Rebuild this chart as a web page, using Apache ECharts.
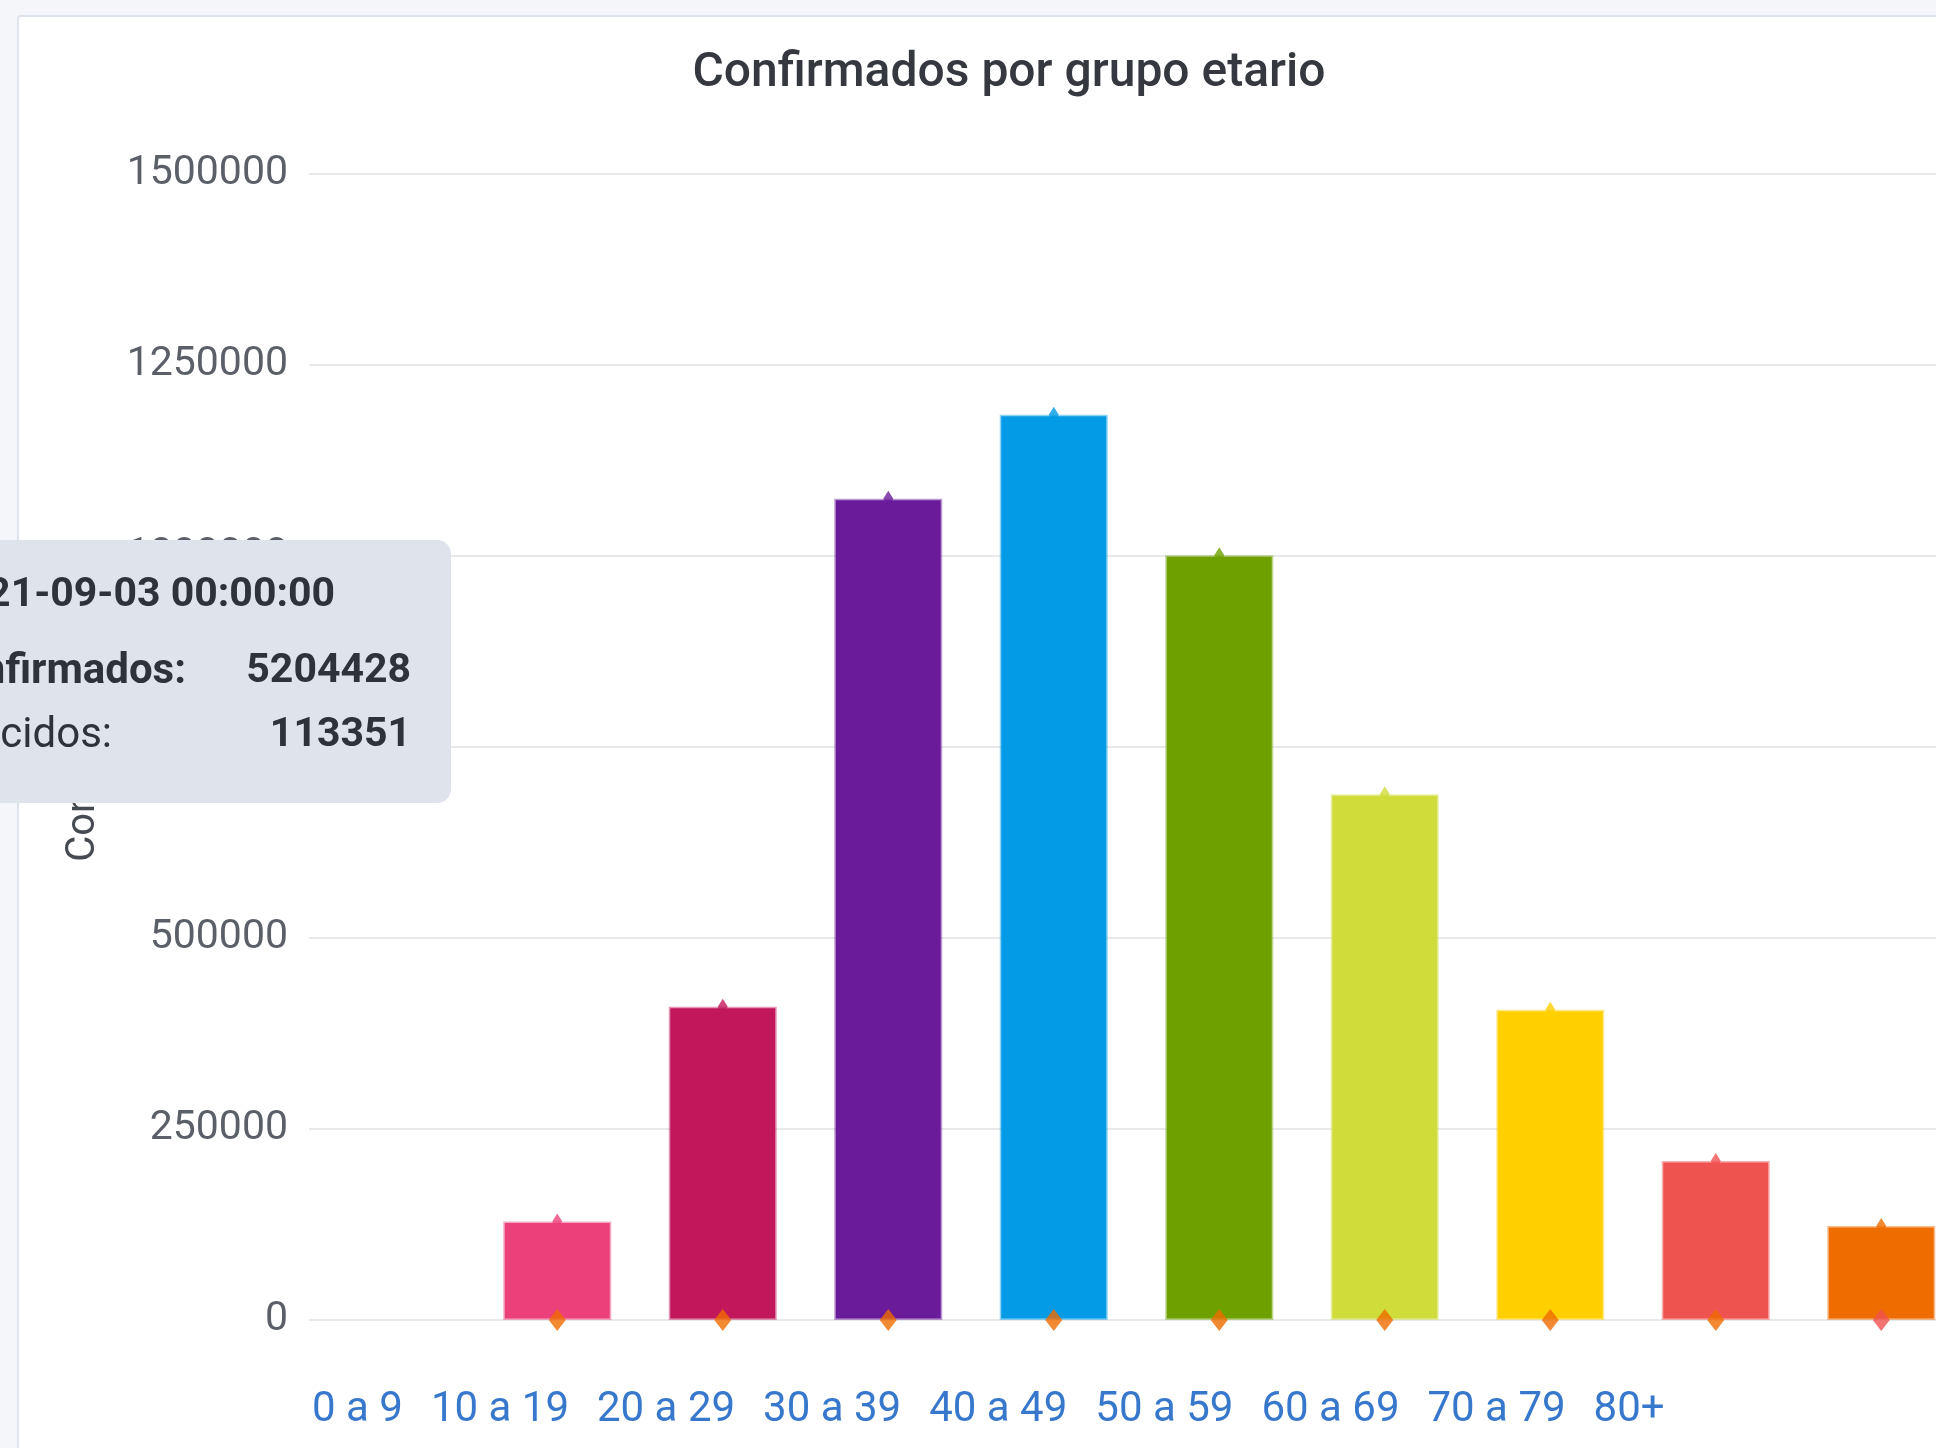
<!DOCTYPE html>
<html>
<head>
<meta charset="utf-8">
<title>Confirmados por grupo etario</title>
<script src="https://cdn.jsdelivr.net/npm/echarts@6/dist/echarts.min.js"></script>
<style>
  html, body { margin: 0; padding: 0; width: 1936px; height: 1448px; overflow: hidden; background: #f5f6f9; }
  #panel { position: absolute; left: 17px; top: 15px; width: 2100px; height: 1500px; background: #fff;
           border: 2px solid #dde3ed; border-radius: 4px; box-sizing: border-box; }
  #chart { position: absolute; left: 0; top: 0; width: 2000px; height: 1448px; }
</style>
</head>
<body>
<div id="panel"></div>
<div id="chart"></div>
<script>
// grupos etarios (también son los textos de la leyenda)
const groups = ['0 a 9', '10 a 19', '20 a 29', '30 a 39', '40 a 49', '50 a 59', '60 a 69', '70 a 79', '80+']
// casos confirmados por grupo
const confirmados = [129000, 410000, 1075000, 1185000, 1001000, 688000, 406000, 208000, 123000]
// fallecidos por grupo (a esta escala quedan sobre el cero)
const fallecidos = [0, 0, 0, 0, 0, 0, 0, 0, 0]
// el eje tiene un hueco vacío antes del primer grupo
const slots = [''].concat(groups)
// eje y
const yMin = 0
const yMax = 1500000
const yStep = 250000
// tooltip fijo que aparece en la captura
const tipDate = '2021-09-03 00:00:00'
const tipNames = ['Confirmados:', 'Fallecidos:']
const tipValues = [5204428, 113351]

const barColors = ['#ec407a', '#c2185b', '#6a1b9a', '#039be5', '#6ea100', '#cfdc3a', '#ffd000', '#ef5350', '#ef6c00']
const dotColors = ['#ef6c00', '#ef6c00', '#ef6c00', '#ef6c00', '#ef6c00', '#ef6c00', '#ef6c00', '#ef6c00', '#ef5350']

const FONT = 'Roboto, "Noto Sans", sans-serif'

// color más claro para el borde de cada barra
const soften = (hex, a) => {
  const n = parseInt(hex.slice(1), 16)
  return `rgba(${(n >> 16) & 255}, ${(n >> 8) & 255}, ${n & 255}, ${a})`
}

const bySlot = (values, styleOf) =>
  slots.map((name) => {
    const i = groups.indexOf(name)
    if (i < 0) return '-'
    return styleOf ? { value: values[i], itemStyle: styleOf(i) } : values[i]
  })

const barSeries = groups.map((g, i) => ({
  name: g,
  type: 'bar',
  barWidth: 108,
  barGap: '-100%',
  z: 3,
  data: bySlot(confirmados).map((v, k) => (slots[k] === g ? v : '-')),
  itemStyle: {
    color: barColors[i],
    borderColor: soften(barColors[i], 0.45),
    borderWidth: 3
  }
}))

// texto del tooltip fijo
const tipText = (x, y, text, weight, size) => ({
  type: 'text',
  x,
  y,
  z: 100,
  zlevel: 1,
  style: { text, align: 'right', verticalAlign: 'middle', font: `${weight} ${size}px ${FONT}`, fill: '#2e323a' }
})

const chart = echarts.init(document.getElementById('chart'), null, { renderer: 'canvas' })
chart.setOption({
  animation: false,
  title: {
    text: 'Confirmados por grupo etario',
    left: 1004,
    top: 45,
    textAlign: 'center',
    textStyle: { fontFamily: FONT, fontSize: 48, fontWeight: 500, color: '#35393f' }
  },
  legend: {
    data: groups,
    left: 302,
    top: 1384,
    icon: 'none',
    itemWidth: 0,
    itemHeight: 14,
    itemGap: 23,
    textStyle: { fontFamily: FONT, fontSize: 42, color: '#3778cd' }
  },
  grid: { left: 309, right: 36, top: 174, bottom: 128 },
  xAxis: {
    type: 'category',
    data: slots,
    axisLine: { show: false },
    axisTick: { show: false },
    axisLabel: { show: false },
    splitLine: { show: false }
  },
  yAxis: {
    type: 'value',
    min: yMin,
    max: yMax,
    interval: yStep,
    name: 'Confirmados',
    nameLocation: 'middle',
    nameGap: 205,
    nameTextStyle: { fontFamily: FONT, fontSize: 40, color: '#464b52' },
    axisLine: { show: false },
    axisTick: { show: false },
    axisLabel: { fontFamily: FONT, fontSize: 41, color: '#5b6068', margin: 21, formatter: (v) => String(v) },
    splitLine: { lineStyle: { color: '#e8e9eb', width: 2 } }
  },
  series: [
    // punta de los marcadores que asoma sobre cada barra
    {
      name: 'Confirmados',
      type: 'scatter',
      symbol: 'diamond',
      symbolSize: [10, 16],
      z: 2,
      data: bySlot(confirmados, (i) => ({ color: barColors[i] }))
    },
    ...barSeries,
    {
      name: 'Fallecidos',
      type: 'scatter',
      symbol: 'diamond',
      symbolSize: [17, 22],
      z: 5,
      data: bySlot(fallecidos, (i) => ({ color: dotColors[i] }))
    }
  ],
  graphic: [
    {
      type: 'rect',
      z: 99,
      zlevel: 1,
      shape: { x: -30, y: 540, width: 481, height: 263, r: 14 },
      style: { fill: '#dee3ec' }
    },
    tipText(335, 596, tipDate, 'bold', 41),
    tipText(186, 672, tipNames[0], 'bold', 42),
    tipText(411, 672, String(tipValues[0]), 'bold', 41),
    tipText(112, 736, tipNames[1], 'normal', 42),
    tipText(411, 736, String(tipValues[1]), 'bold', 41)
  ]
})
</script>
</body>
</html>
